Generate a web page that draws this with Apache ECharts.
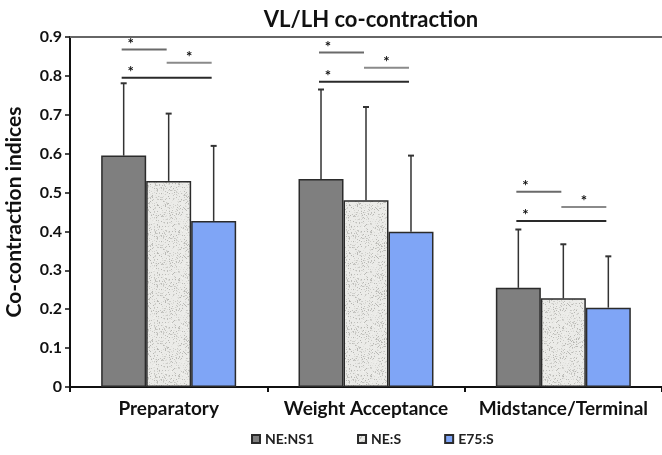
<!DOCTYPE html>
<html><head><meta charset="utf-8">
<script src="https://cdn.jsdelivr.net/npm/echarts@6/dist/echarts.min.js"></script>
<style>html,body{margin:0;padding:0;background:#fff}#c{width:662px;height:455px}</style>
</head><body><div id="c"></div>
<script>
const categories = ['Preparatory', 'Weight Acceptance', 'Midstance/Terminal'];
const seriesNames = ['NE:NS1', 'NE:S', 'E75:S'];
const meanNS1 = [0.595, 0.535, 0.255];
const meanNES = [0.530, 0.480, 0.228];
const meanE75 = [0.427, 0.399, 0.204];
const sdNS1 = [0.186, 0.230, 0.150];
const sdNES = [0.173, 0.240, 0.139];
const sdE75 = [0.193, 0.196, 0.132];
const yTicks = [0, 0.1, 0.2, 0.3, 0.4, 0.5, 0.6, 0.7, 0.8, 0.9];
// significance brackets: [category, fromBar, toBar, level]
const brackets = [
  [0, 0, 1, 0.868], [0, 1, 2, 0.834], [0, 0, 2, 0.795],
  [1, 0, 1, 0.860], [1, 1, 2, 0.821], [1, 0, 2, 0.785],
  [2, 0, 1, 0.502], [2, 1, 2, 0.463], [2, 0, 2, 0.427]
];
const bracketColors = ['#6a6a6a', '#8a8a8a', '#2a2a2a'];

const CAT_GAP = 0.316;
const FONT = 'Lato, "Open Sans", sans-serif';

// speckled texture for NE:S bars
function makePattern() {
  const cv = document.createElement('canvas');
  cv.width = 48; cv.height = 48;
  const ctx = cv.getContext('2d');
  ctx.fillStyle = '#ebebe8';
  ctx.fillRect(0, 0, 48, 48);
  let s = 12345;
  const rnd = () => { s = (s * 1103515245 + 12345) & 0x7fffffff; return s / 0x7fffffff; };
  for (let i = 0; i < 800; i++) {
    const g = Math.floor(180 + rnd() * 65);
    ctx.fillStyle = 'rgb(' + g + ',' + g + ',' + (g - 4) + ')';
    ctx.fillRect(Math.floor(rnd() * 48), Math.floor(rnd() * 48), 1, 1);
  }
  return cv;
}
const pat = { image: makePattern(), repeat: 'repeat' };

function barX(api, cat, k, val) {
  const c = api.coord([cat, val]);
  const band = api.size([1, 0])[0];
  const bw = band * (1 - CAT_GAP) / 3;
  return [c[0] + (k - 1) * bw, c[1]];
}

const errData = [];
[[meanNS1, sdNS1], [meanNES, sdNES], [meanE75, sdE75]].forEach((p, k) => {
  p[0].forEach((m, i) => errData.push([i, k, m, p[1][i]]));
});

const chart = echarts.init(document.getElementById('c'));
const barStyle = (color) => ({ color: color, borderColor: '#2b2b2b', borderWidth: 1.5 });
chart.setOption({
  animation: false,
  title: {
    text: 'VL/LH co-contraction', left: 366, textAlign: 'center', top: 4,
    textStyle: { fontFamily: FONT, fontWeight: 'bold', fontSize: 22, color: '#111' }
  },
  legend: {
    data: seriesNames, bottom: 4, left: 246, itemWidth: 8, itemHeight: 8, itemGap: 43,
    icon: 'rect',
    textStyle: { fontFamily: FONT, fontSize: 14, color: '#222', fontWeight: 'bold' }
  },
  grid: { left: 70, right: 0, top: 37, bottom: 68, containLabel: false, outerBoundsMode: 'none' },
  xAxis: [{
    type: 'category', data: categories,
    axisLine: { lineStyle: { color: '#111', width: 2 } },
    axisTick: { show: true, length: 5, lineStyle: { color: '#111', width: 2 } },
    axisLabel: { interval: 0, hideOverlap: false, fontFamily: FONT, fontWeight: 'bold', fontSize: 19, color: '#111', margin: 12 }
  }, {
    type: 'category', data: categories, position: 'top',
    axisLine: { lineStyle: { color: '#666', width: 2 } },
    axisTick: { show: false }, axisLabel: { show: false }
  }],
  yAxis: {
    type: 'value', min: 0, max: 0.9, interval: 0.1,
    name: 'Co-contraction indices', nameLocation: 'middle', nameGap: 45,
    nameTextStyle: { fontFamily: FONT, fontWeight: 'bold', fontSize: 21, color: '#111' },
    axisLine: { show: true, lineStyle: { color: '#111', width: 2 } },
    axisTick: { show: true, length: 5, lineStyle: { color: '#111', width: 1.5 } },
    splitLine: { show: false },
    axisLabel: {
      fontFamily: FONT, fontWeight: 'bold', fontSize: 16, color: '#111', margin: 8,
      formatter: v => { const t = yTicks.find(x => Math.abs(x - v) < 1e-6); return t === 0 ? '0' : String(t); }
    }
  },
  series: [
    { name: 'NE:NS1', type: 'bar', data: meanNS1, barGap: '0%', barCategoryGap: (CAT_GAP * 100) + '%', itemStyle: barStyle('#7f7f7f') },
    { name: 'NE:S', type: 'bar', data: meanNES, barGap: '0%', itemStyle: barStyle(pat) },
    { name: 'E75:S', type: 'bar', data: meanE75, barGap: '0%', itemStyle: barStyle('#7fa5f6') },
    {
      type: 'custom', name: 'err', data: errData, z: 1,
      renderItem: (params, api) => {
        const cat = api.value(0), k = api.value(1), m = api.value(2), sd = api.value(3);
        const b = barX(api, cat, k, m);
        const top = api.coord([cat, m + sd])[1];
        return { type: 'group', children: [
          { type: 'line', shape: { x1: b[0], y1: b[1], x2: b[0], y2: top }, style: { stroke: '#333', lineWidth: 1.5 } },
          { type: 'line', shape: { x1: b[0] - 3, y1: top, x2: b[0] + 3, y2: top }, style: { stroke: '#333', lineWidth: 2 } }
        ]};
      }
    },
    {
      type: 'custom', name: 'sig', data: brackets.map((b, i) => b.concat([i % 3])), z: 5,
      renderItem: (params, api) => {
        const cat = api.value(0), f = api.value(1), t = api.value(2), y = api.value(3), ci = api.value(4);
        const a = barX(api, cat, f, y), c = barX(api, cat, t, y);
        const x1 = a[0] - 2, x2 = c[0] - 2;
        const sx = f === 0 ? x1 + 9 : (x1 + x2) / 2;
        return { type: 'group', children: [
          { type: 'line', shape: { x1: x1, y1: a[1], x2: x2, y2: a[1] }, style: { stroke: bracketColors[ci], lineWidth: 2 } },
          { type: 'text', x: sx, y: a[1] + 2, style: { text: '*', fill: '#111', font: 'bold 15px ' + FONT, textAlign: 'center', textVerticalAlign: 'bottom' } }
        ]};
      }
    }
  ]
});
</script></body></html>
